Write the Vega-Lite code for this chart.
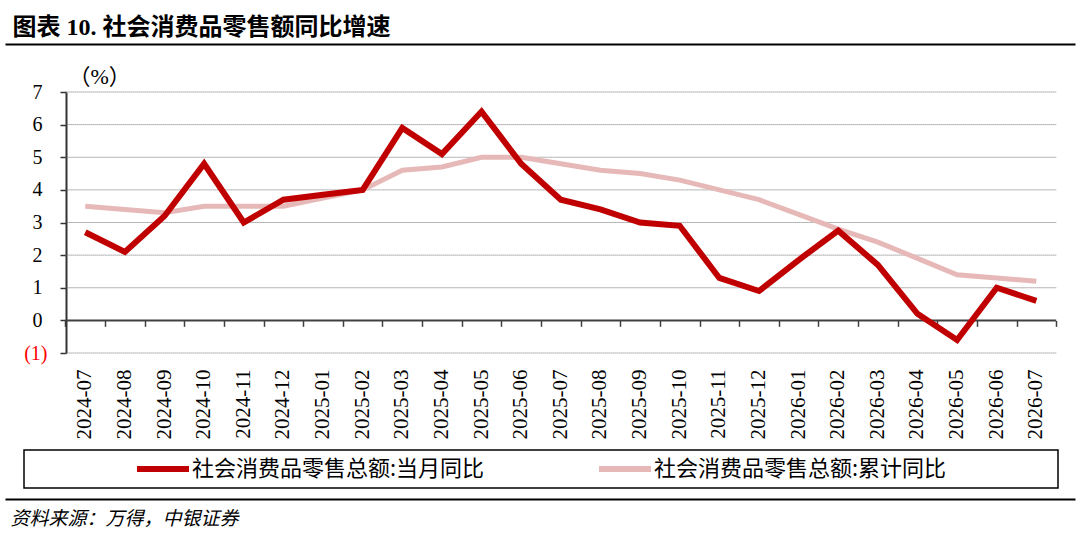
{
  "$schema": "https://vega.github.io/schema/vega-lite/v6.json",
  "width": 1070,
  "height": 261,
  "autosize": {"type": "none"},
  "padding": {"left": 5, "top": 92, "right": 5, "bottom": 202},
  "background": "white",
  "datasets": {
    "sales": [
      {"month": "2024-07", "series": "社会消费品零售总额:当月同比", "value": 2.7},
      {"month": "2024-08", "series": "社会消费品零售总额:当月同比", "value": 2.1},
      {"month": "2024-09", "series": "社会消费品零售总额:当月同比", "value": 3.2},
      {"month": "2024-10", "series": "社会消费品零售总额:当月同比", "value": 4.8},
      {"month": "2024-11", "series": "社会消费品零售总额:当月同比", "value": 3.0},
      {"month": "2024-12", "series": "社会消费品零售总额:当月同比", "value": 3.7},
      {"month": "2025-01", "series": "社会消费品零售总额:当月同比", "value": 3.85},
      {"month": "2025-02", "series": "社会消费品零售总额:当月同比", "value": 4.0},
      {"month": "2025-03", "series": "社会消费品零售总额:当月同比", "value": 5.9},
      {"month": "2025-04", "series": "社会消费品零售总额:当月同比", "value": 5.1},
      {"month": "2025-05", "series": "社会消费品零售总额:当月同比", "value": 6.4},
      {"month": "2025-06", "series": "社会消费品零售总额:当月同比", "value": 4.8},
      {"month": "2025-07", "series": "社会消费品零售总额:当月同比", "value": 3.7},
      {"month": "2025-08", "series": "社会消费品零售总额:当月同比", "value": 3.4},
      {"month": "2025-09", "series": "社会消费品零售总额:当月同比", "value": 3.0},
      {"month": "2025-10", "series": "社会消费品零售总额:当月同比", "value": 2.9},
      {"month": "2025-11", "series": "社会消费品零售总额:当月同比", "value": 1.3},
      {"month": "2025-12", "series": "社会消费品零售总额:当月同比", "value": 0.9},
      {"month": "2026-01", "series": "社会消费品零售总额:当月同比", "value": 1.85},
      {"month": "2026-02", "series": "社会消费品零售总额:当月同比", "value": 2.75},
      {"month": "2026-03", "series": "社会消费品零售总额:当月同比", "value": 1.7},
      {"month": "2026-04", "series": "社会消费品零售总额:当月同比", "value": 0.2},
      {"month": "2026-05", "series": "社会消费品零售总额:当月同比", "value": -0.6},
      {"month": "2026-06", "series": "社会消费品零售总额:当月同比", "value": 1.0},
      {"month": "2026-07", "series": "社会消费品零售总额:当月同比", "value": 0.6},
      {"month": "2024-07", "series": "社会消费品零售总额:累计同比", "value": 3.5},
      {"month": "2024-08", "series": "社会消费品零售总额:累计同比", "value": 3.4},
      {"month": "2024-09", "series": "社会消费品零售总额:累计同比", "value": 3.3},
      {"month": "2024-10", "series": "社会消费品零售总额:累计同比", "value": 3.5},
      {"month": "2024-11", "series": "社会消费品零售总额:累计同比", "value": 3.5},
      {"month": "2024-12", "series": "社会消费品零售总额:累计同比", "value": 3.5},
      {"month": "2025-01", "series": "社会消费品零售总额:累计同比", "value": 3.75},
      {"month": "2025-02", "series": "社会消费品零售总额:累计同比", "value": 4.0},
      {"month": "2025-03", "series": "社会消费品零售总额:累计同比", "value": 4.6},
      {"month": "2025-04", "series": "社会消费品零售总额:累计同比", "value": 4.7},
      {"month": "2025-05", "series": "社会消费品零售总额:累计同比", "value": 5.0},
      {"month": "2025-06", "series": "社会消费品零售总额:累计同比", "value": 5.0},
      {"month": "2025-07", "series": "社会消费品零售总额:累计同比", "value": 4.8},
      {"month": "2025-08", "series": "社会消费品零售总额:累计同比", "value": 4.6},
      {"month": "2025-09", "series": "社会消费品零售总额:累计同比", "value": 4.5},
      {"month": "2025-10", "series": "社会消费品零售总额:累计同比", "value": 4.3},
      {"month": "2025-11", "series": "社会消费品零售总额:累计同比", "value": 4.0},
      {"month": "2025-12", "series": "社会消费品零售总额:累计同比", "value": 3.7},
      {"month": "2026-01", "series": "社会消费品零售总额:累计同比", "value": 3.25},
      {"month": "2026-02", "series": "社会消费品零售总额:累计同比", "value": 2.8},
      {"month": "2026-03", "series": "社会消费品零售总额:累计同比", "value": 2.4},
      {"month": "2026-04", "series": "社会消费品零售总额:累计同比", "value": 1.9},
      {"month": "2026-05", "series": "社会消费品零售总额:累计同比", "value": 1.4},
      {"month": "2026-06", "series": "社会消费品零售总额:累计同比", "value": 1.3},
      {"month": "2026-07", "series": "社会消费品零售总额:累计同比", "value": 1.2}
    ],
    "grid": [
      {"level": -1, "first": "2024-07", "last": "2026-07"},
      {"level": 1, "first": "2024-07", "last": "2026-07"},
      {"level": 2, "first": "2024-07", "last": "2026-07"},
      {"level": 3, "first": "2024-07", "last": "2026-07"},
      {"level": 4, "first": "2024-07", "last": "2026-07"},
      {"level": 5, "first": "2024-07", "last": "2026-07"},
      {"level": 6, "first": "2024-07", "last": "2026-07"},
      {"level": 7, "first": "2024-07", "last": "2026-07"}
    ],
    "zero": [
      {"level": 0, "first": "2024-07", "last": "2026-07"}
    ]
  },
  "layer": [
    {
      "data": {"name": "grid"},
      "mark": {"type": "rule", "color": "#6f6f6f", "strokeWidth": 1, "strokeDash": [1, 1]},
      "encoding": {
        "x": {
          "field": "first", "type": "ordinal", "bandPosition": 0,
          "scale": {"type": "band", "domain": ["2024-07","2024-08","2024-09","2024-10","2024-11","2024-12","2025-01","2025-02","2025-03","2025-04","2025-05","2025-06","2025-07","2025-08","2025-09","2025-10","2025-11","2025-12","2026-01","2026-02","2026-03","2026-04","2026-05","2026-06","2026-07"], "paddingInner": 0, "paddingOuter": 1.0101, "align": 0.7625},
          "axis": {
            "orient": "top", "offset": 48, "minExtent": 0, "labels": false, "ticks": false, "grid": false,
            "domain": true, "domainColor": "#000000", "domainWidth": 2,
            "title": "图表 10. 社会消费品零售额同比增速", "titleX": 7, "titleY": -17, "titleAlign": "left", "titleBaseline": "middle",
            "titleFont": "Liberation Serif, Noto Sans CJK SC", "titleFontSize": 24, "titleFontWeight": "bold", "titleColor": "#000000"
          }
        },
        "x2": {"field": "last", "bandPosition": 1},
        "y": {
          "field": "level", "type": "quantitative",
          "scale": {"domain": [-1, 7], "nice": false, "zero": false},
          "axis": {
            "orient": "left", "offset": -61, "values": [-1, 0, 1, 2, 3, 4, 5, 6, 7], "grid": false,
            "domainColor": "#333333", "domainWidth": 2, "tickColor": "#333333", "tickWidth": 1.5, "tickSize": 6,
            "labelFont": "Liberation Serif", "labelFontSize": 20, "labelPadding": 13,
            "labelExpr": "datum.value < 0 ? '(' + abs(datum.value) + ')' : datum.value + '\u00a0\u200b'",
            "labelColor": {"condition": {"test": "datum.value < 0", "value": "#ff0000"}, "value": "#000000"},
            "title": "（%）", "titleAngle": 0, "titleX": 2, "titleY": -16, "titleAlign": "left", "titleBaseline": "middle",
            "titleFont": "Liberation Serif, Noto Sans CJK SC", "titleFontSize": 22, "titleFontWeight": "normal", "titleColor": "#000000"
          }
        }
      }
    },
    {
      "data": {"name": "zero"},
      "mark": {"type": "rule", "color": "#404040", "strokeWidth": 2},
      "encoding": {
        "x": {
          "field": "first", "type": "ordinal", "bandPosition": 0,
          "scale": {"type": "band", "domain": ["2024-07","2024-08","2024-09","2024-10","2024-11","2024-12","2025-01","2025-02","2025-03","2025-04","2025-05","2025-06","2025-07","2025-08","2025-09","2025-10","2025-11","2025-12","2026-01","2026-02","2026-03","2026-04","2026-05","2026-06","2026-07"], "paddingInner": 0, "paddingOuter": 1.0101, "align": 0.7625},
          "axis": {"orient": "bottom", "offset": -32.625, "title": null, "labels": false, "domain": false, "grid": false, "ticks": true, "tickBand": "extent", "tickSize": 6, "tickColor": "#404040", "tickWidth": 1.5}
        },
        "x2": {"field": "last", "bandPosition": 1},
        "y": {
          "field": "level", "type": "quantitative",
          "scale": {"domain": [-1, 7], "nice": false, "zero": false},
          "axis": {
            "orient": "left", "offset": -61, "values": [-1, 0, 1, 2, 3, 4, 5, 6, 7], "grid": false,
            "domainColor": "#333333", "domainWidth": 2, "tickColor": "#333333", "tickWidth": 1.5, "tickSize": 6,
            "labelFont": "Liberation Serif", "labelFontSize": 20, "labelPadding": 13,
            "labelExpr": "datum.value < 0 ? '(' + abs(datum.value) + ')' : datum.value + '\u00a0\u200b'",
            "labelColor": {"condition": {"test": "datum.value < 0", "value": "#ff0000"}, "value": "#000000"},
            "title": "（%）", "titleAngle": 0, "titleX": 2, "titleY": -16, "titleAlign": "left", "titleBaseline": "middle",
            "titleFont": "Liberation Serif, Noto Sans CJK SC", "titleFontSize": 22, "titleFontWeight": "normal", "titleColor": "#000000"
          }
        }
      }
    },
    {
      "data": {"name": "sales"},
      "transform": [{"filter": "datum.series === '社会消费品零售总额:累计同比'"}],
      "mark": {"type": "line", "strokeWidth": 5},
      "encoding": {
        "x": {
          "field": "month", "type": "ordinal",
          "scale": {"type": "band", "domain": ["2024-07","2024-08","2024-09","2024-10","2024-11","2024-12","2025-01","2025-02","2025-03","2025-04","2025-05","2025-06","2025-07","2025-08","2025-09","2025-10","2025-11","2025-12","2026-01","2026-02","2026-03","2026-04","2026-05","2026-06","2026-07"], "paddingInner": 0, "paddingOuter": 1.0101, "align": 0.7625},
          "axis": {
            "orient": "bottom", "offset": 146, "labels": false, "ticks": false, "grid": false,
            "domain": true, "domainColor": "#000000", "domainWidth": 2,
            "title": "资料来源：万得，中银证券", "titleX": 5, "titleY": 19, "titleAlign": "left", "titleBaseline": "middle",
            "titleFont": "Noto Sans CJK SC", "titleFontSize": 19, "titleFontStyle": "italic", "titleFontWeight": "normal", "titleColor": "#000000"
          }
        },
        "y": {
          "field": "value", "type": "quantitative",
          "scale": {"domain": [-1, 7], "nice": false, "zero": false},
          "axis": {
            "orient": "left", "offset": -61, "values": [-1, 0, 1, 2, 3, 4, 5, 6, 7], "grid": false,
            "domainColor": "#333333", "domainWidth": 2, "tickColor": "#333333", "tickWidth": 1.5, "tickSize": 6,
            "labelFont": "Liberation Serif", "labelFontSize": 20, "labelPadding": 13,
            "labelExpr": "datum.value < 0 ? '(' + abs(datum.value) + ')' : datum.value + '\u00a0\u200b'",
            "labelColor": {"condition": {"test": "datum.value < 0", "value": "#ff0000"}, "value": "#000000"},
            "title": "（%）", "titleAngle": 0, "titleX": 2, "titleY": -16, "titleAlign": "left", "titleBaseline": "middle",
            "titleFont": "Liberation Serif, Noto Sans CJK SC", "titleFontSize": 22, "titleFontWeight": "normal", "titleColor": "#000000"
          }
        },
        "color": {
          "field": "series", "type": "nominal",
          "scale": {"domain": ["社会消费品零售总额:当月同比", "社会消费品零售总额:累计同比"], "range": ["#c00000", "#e6b9b8"]},
          "legend": {
            "orient": "none", "legendX": 19, "legendY": 358, "direction": "horizontal", "title": null,
            "padding": 8, "strokeColor": "#000000", "clipHeight": 22,
            "symbolType": "stroke", "symbolSize": 2704, "symbolStrokeWidth": 6, "symbolOffset": 102,
            "labelOffset": 0, "columnPadding": 9,
            "labelExpr": "datum.value === '社会消费品零售总额:累计同比' ? datum.label + '\u00a0\u00a0\u00a0\u00a0\u00a0\u00a0\u00a0\u00a0\u00a0\u00a0\u00a0\u00a0\u00a0\u00a0\u00a0\u00a0\u00a0\u00a0\u00a0\u00a0\u00a0\u200b' : datum.label",
            "labelFont": "Noto Sans CJK SC", "labelFontSize": 22, "labelColor": "#000000", "labelLimit": 500
          }
        }
      }
    },
    {
      "data": {"name": "sales"},
      "transform": [{"filter": "datum.series === '社会消费品零售总额:当月同比'"}],
      "mark": {"type": "line", "strokeWidth": 6},
      "encoding": {
        "x": {
          "field": "month", "type": "ordinal",
          "scale": {"type": "band", "domain": ["2024-07","2024-08","2024-09","2024-10","2024-11","2024-12","2025-01","2025-02","2025-03","2025-04","2025-05","2025-06","2025-07","2025-08","2025-09","2025-10","2025-11","2025-12","2026-01","2026-02","2026-03","2026-04","2026-05","2026-06","2026-07"], "paddingInner": 0, "paddingOuter": 1.0101, "align": 0.7625},
          "axis": {
            "orient": "bottom", "offset": 0, "title": null, "domain": false, "ticks": false, "grid": false,
            "labelAngle": -90, "labelFont": "Liberation Serif", "labelFontSize": 21, "labelPadding": 16, "labelColor": "#000000"
          }
        },
        "y": {
          "field": "value", "type": "quantitative",
          "scale": {"domain": [-1, 7], "nice": false, "zero": false},
          "axis": {
            "orient": "left", "offset": -61, "values": [-1, 0, 1, 2, 3, 4, 5, 6, 7], "grid": false,
            "domainColor": "#333333", "domainWidth": 2, "tickColor": "#333333", "tickWidth": 1.5, "tickSize": 6,
            "labelFont": "Liberation Serif", "labelFontSize": 20, "labelPadding": 13,
            "labelExpr": "datum.value < 0 ? '(' + abs(datum.value) + ')' : datum.value + '\u00a0\u200b'",
            "labelColor": {"condition": {"test": "datum.value < 0", "value": "#ff0000"}, "value": "#000000"},
            "title": "（%）", "titleAngle": 0, "titleX": 2, "titleY": -16, "titleAlign": "left", "titleBaseline": "middle",
            "titleFont": "Liberation Serif, Noto Sans CJK SC", "titleFontSize": 22, "titleFontWeight": "normal", "titleColor": "#000000"
          }
        },
        "color": {
          "field": "series", "type": "nominal",
          "scale": {"domain": ["社会消费品零售总额:当月同比", "社会消费品零售总额:累计同比"], "range": ["#c00000", "#e6b9b8"]},
          "legend": {
            "orient": "none", "legendX": 19, "legendY": 358, "direction": "horizontal", "title": null,
            "padding": 8, "strokeColor": "#000000", "clipHeight": 22,
            "symbolType": "stroke", "symbolSize": 2704, "symbolStrokeWidth": 6, "symbolOffset": 102,
            "labelOffset": 0, "columnPadding": 9,
            "labelExpr": "datum.value === '社会消费品零售总额:累计同比' ? datum.label + '\u00a0\u00a0\u00a0\u00a0\u00a0\u00a0\u00a0\u00a0\u00a0\u00a0\u00a0\u00a0\u00a0\u00a0\u00a0\u00a0\u00a0\u00a0\u00a0\u00a0\u00a0\u200b' : datum.label",
            "labelFont": "Noto Sans CJK SC", "labelFontSize": 22, "labelColor": "#000000", "labelLimit": 500
          }
        }
      }
    }
  ],
  "resolve": {"axis": {"x": "independent"}},
  "config": {
    "view": {"stroke": null},
    "legend": {"strokeWidth": 1.5}
  }
}
